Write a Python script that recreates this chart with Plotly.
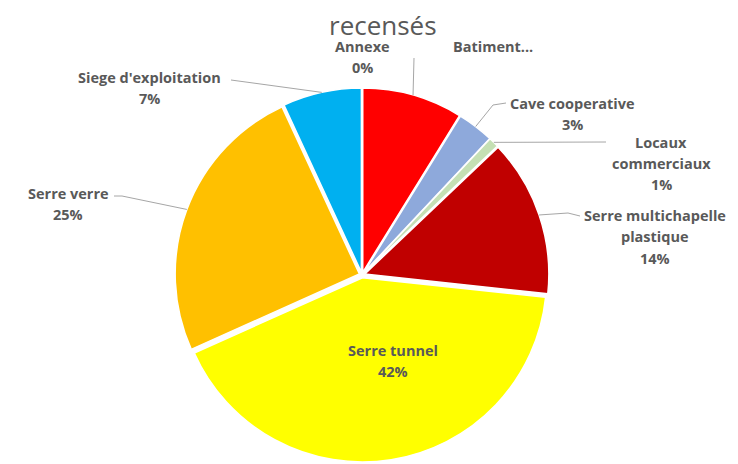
import math
import plotly.graph_objects as go

# Données du graphique
categories = ["Annexe", "Batiment...", "Cave cooperative", "Locaux commerciaux",
              "Serre multichapelle plastique", "Serre tunnel", "Serre verre",
              "Siege d'exploitation"]
valeurs = [0, 8.8, 3.2, 0.9, 13.8, 41.6, 24.8, 6.9]
etiquettes = ["Annexe", "Batiment...", "Cave cooperative", "Locaux<br>commerciaux",
              "Serre multichapelle<br>plastique", "Serre tunnel", "Serre verre",
              "Siege d'exploitation"]
afficher_pct = [True, False, True, True, True, True, True, True]
couleurs = ["#A5A5A5", "#FF0000", "#8EA9DB", "#C5E0B4", "#C00000",
            "#FFFF00", "#FFC000", "#00B0F0"]

# la page html a une marge de 8 px autour de la figure
OFF = 8
W, H = 730, 456
ML, MR, MT, MB = 0, 22, 80, 2
PW, PH = W - ML - MR, H - MT - MB
CX, CY = ML + PW / 2, MT + PH / 2
R0 = min(PW, PH) / 2


def px2paper(x, y):
    # x, y en pixels de l'écran
    return (x - OFF - ML) / PW, 1 - (y - OFF - MT) / PH


# position du texte (1re ligne) et départ du trait de rappel, pixels écran
pos_texte = [(362, 46), (493, 46), (572, 103), (661, 142), (655, 215),
             (393, 350), (68, 193), (149, 77)]
depart_trait = [None, [(414, 58)], [(506, 103), (493, 105)], [(606, 142)],
                [(580, 216), (568, 213)], None, [(114, 196), (122, 196)],
                [(231, 80)]]

fig = go.Figure()

fig.add_trace(go.Pie(
    labels=categories,
    values=valeurs,
    sort=False,
    direction="clockwise",
    rotation=0,
    marker={"colors": couleurs, "line": {"color": "white", "width": 1.5}},
    pull=0.015,
    textinfo="none",
    hoverinfo="label+percent",
    showlegend=False,
))

total = sum(valeurs)
annotations = []
shapes = []
cumul = 0
for i, v in enumerate(valeurs):
    milieu = (cumul + v / 2) / total * 2 * math.pi
    cumul += v
    bord = (CX + OFF + R0 * math.sin(milieu), CY + OFF - R0 * math.cos(milieu))

    lignes = etiquettes[i].split("<br>")
    if afficher_pct[i]:
        lignes.append(f"{round(v / total * 100)}%")
    tx, ty = pos_texte[i]
    for k, ligne in enumerate(lignes):
        x, y = px2paper(tx, ty + 21.5 * k)
        annotations.append(dict(
            x=x, y=y, xref="paper", yref="paper", text=ligne, showarrow=False,
            xanchor="center", yanchor="middle",
            font=dict(family="Open Sans", size=14.5, color="#595959", weight="bold"),
        ))

    if depart_trait[i]:
        pts = [px2paper(*p) for p in depart_trait[i] + [bord]]
        path = "M " + " L ".join(f"{x},{y}" for x, y in pts)
        shapes.append(dict(type="path", path=path, xref="paper", yref="paper",
                           line=dict(color="#A6A6A6", width=1)))

# titre (seule la 2e ligne est visible)
tx, ty = px2paper(383, 25)
annotations.append(dict(
    x=tx, y=ty, xref="paper", yref="paper", text="recensés", showarrow=False,
    xanchor="center", yanchor="middle",
    font=dict(family="Open Sans", size=26, color="#595959"),
))

fig.update_layout(
    width=W, height=H,
    margin=dict(l=ML, r=MR, t=MT, b=MB),
    paper_bgcolor="white",
    plot_bgcolor="white",
    annotations=annotations,
    shapes=shapes,
)

fig.write_html("out.html")
